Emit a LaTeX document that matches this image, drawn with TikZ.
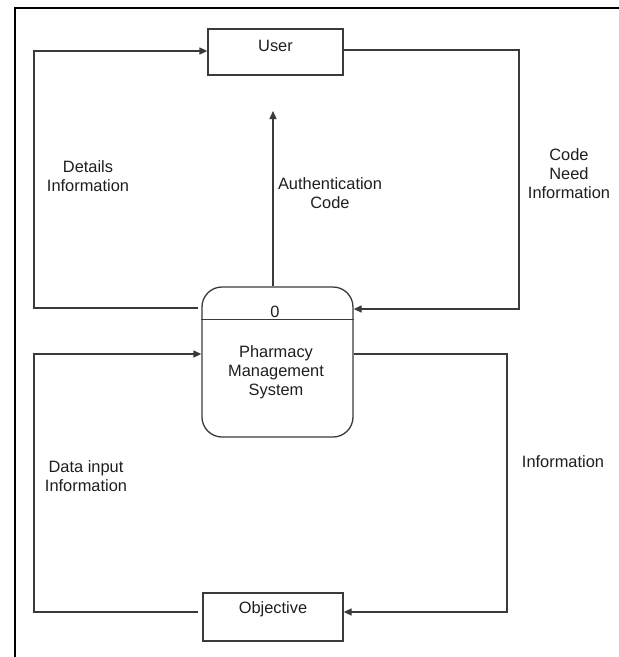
\documentclass[tikz,border=0pt]{standalone}
\usepackage{fontspec}
\setmainfont{Liberation Sans}
\usetikzlibrary{arrows.meta}
\definecolor{linec}{HTML}{3A3A3A}
\definecolor{textc}{HTML}{1E1E1E}
\begin{document}
\begin{tikzpicture}[x=1pt,y=-1pt,
  every node/.style={font=\fontsize{16.4}{19}\selectfont, text=textc, align=center, inner sep=0pt},
  entity/.style={draw=linec, line width=1.3pt, rectangle},
  proc/.style={draw=linec, line width=1.3pt, rectangle, rounded corners=20pt, minimum width=151pt, minimum height=150pt},
  flow/.style={draw=linec, line width=1.3pt},
  arrowflow/.style={flow, -{Triangle[length=8pt,width=7pt]}},
  frameline/.style={draw=black, line width=1.2pt}]
\useasboundingbox (0,0) rectangle (619,657);
% frame
\coordinate (ftr) at (619,8);
\coordinate (ftl) at (15,8);
\coordinate (fbl) at (15,657);
\draw[frameline] (ftr) -- (ftl) -- (fbl);
% nodes
\node[entity, minimum width=135pt, minimum height=46pt] (user) at (275.5,52) {};
\node (usert) at (275.5,46) {User};
\node[proc] (pms) at (277.5,362) {};
\node (zero) at (275,312) {0};
\node (pmst) at (276,372) {Pharmacy\\Management\\System};
\node[entity, minimum width=140pt, minimum height=48pt] (obj) at (273,617) {};
\node (objt) at (273,609) {Objective};
\draw[flow] ([yshift=-33pt]pms.north west) -- ([yshift=-33pt]pms.north east);
% labels
\node (l1) at (88,176) {Details\\Information};
\node (l2) at (330,193) {Authentication\\Code};
\node (l3) at (569,174) {Code\\Need\\Information};
\node (l4) at (86,476) {Data input\\Information};
\node (l5) at (563,462) {Information};
% connectors
\coordinate (authtip) at (273,111);
\draw[arrowflow] (pms.north -| authtip) -- (authtip);
\draw[arrowflow, shorten <=3pt] (pms.west |- 0,308) -- (34,308) -- (34,51) -- (user.west |- 0,51);
\draw[arrowflow] (user.east |- 0,50) -- (519,50) -- (519,309) -- (pms.east |- 0,309);
\draw[arrowflow, shorten <=4pt] (obj.west |- 0,612) -- (34,612) -- (34,354) -- (pms.west |- 0,354);
\draw[arrowflow] (pms.east |- 0,354) -- (507,354) -- (507,612) -- (obj.east |- 0,612);
\end{tikzpicture}
\end{document}
